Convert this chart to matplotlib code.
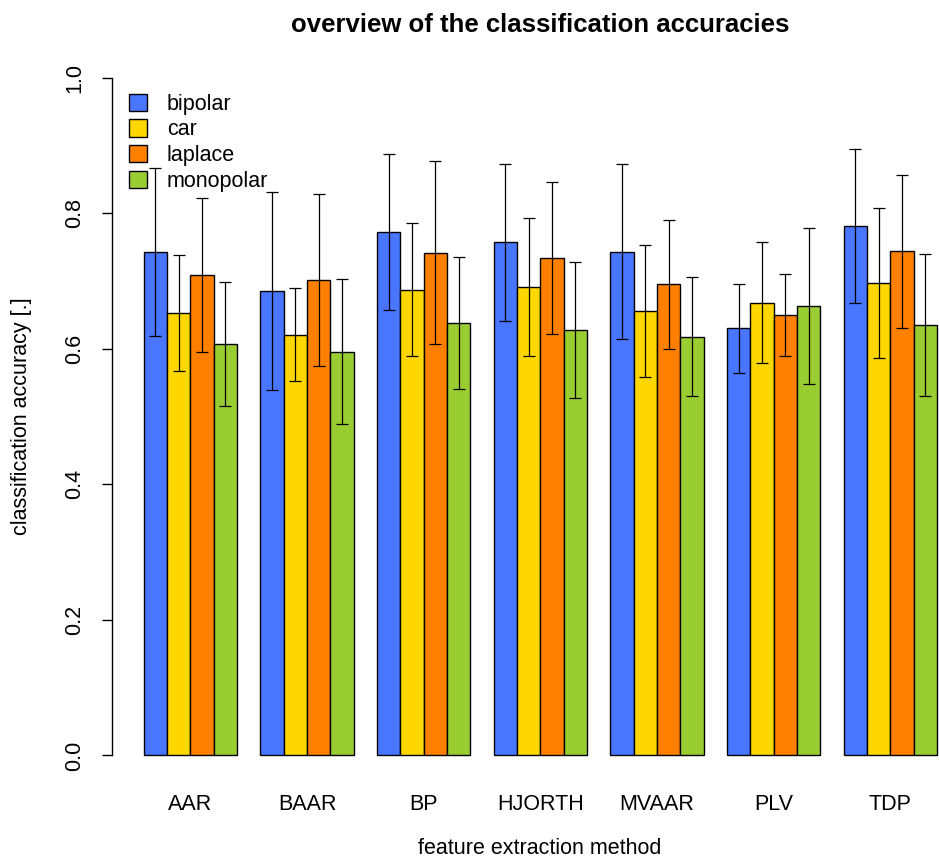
import matplotlib
matplotlib.use('Agg')
from matplotlib import pyplot as plt
from matplotlib.patches import Patch
import numpy as np

plt.rcParams['font.family'] = ['Liberation Sans', 'DejaVu Sans']

methods = ['AAR', 'BAAR', 'BP', 'HJORTH', 'MVAAR', 'PLV', 'TDP']
references = ['bipolar', 'car', 'laplace', 'monopolar']
colors = ['#4876FF', '#FFD700', '#FF7F00', '#9ACD32']

# mean accuracy per method, one list per reference
acc_bipolar = [0.743, 0.685, 0.773, 0.757, 0.743, 0.630, 0.781]
acc_car = [0.653, 0.621, 0.687, 0.691, 0.656, 0.668, 0.697]
acc_laplace = [0.709, 0.701, 0.742, 0.734, 0.695, 0.650, 0.744]
acc_monopolar = [0.607, 0.596, 0.638, 0.628, 0.618, 0.663, 0.635]

# standard deviations
sd_bipolar = [0.124, 0.146, 0.115, 0.116, 0.129, 0.065, 0.114]
sd_car = [0.086, 0.069, 0.098, 0.102, 0.097, 0.089, 0.111]
sd_laplace = [0.114, 0.127, 0.135, 0.112, 0.095, 0.060, 0.113]
sd_monopolar = [0.092, 0.107, 0.097, 0.100, 0.088, 0.115, 0.105]

means = [acc_bipolar, acc_car, acc_laplace, acc_monopolar]
sds = [sd_bipolar, sd_car, sd_laplace, sd_monopolar]

W, H = 939, 861
fig = plt.figure(figsize=(W / 100, H / 100), dpi=100)
# plot region like R's barplot (may run past right edge)
ax = fig.add_axes([112 / W, (H - 782.6) / H, 856.7 / W, 732 / H])

group_start = 1 + 5 * np.arange(len(methods))  # one bar width of space between groups

for i, (ref, col) in enumerate(zip(references, colors)):
    x = group_start + i + 0.5
    ax.bar(x, means[i], width=1.0, color=col, edgecolor='black', linewidth=1.0,
           label=ref, zorder=2)
    ax.errorbar(x, means[i], yerr=sds[i], fmt='none', ecolor='black',
                elinewidth=0.9, capsize=4.5, capthick=0.9, zorder=3)

ax.set_xlim(1 - 0.04 * 34, 35 + 0.04 * 34)
ax.set_ylim(-0.04, 1.04)

for s in ['top', 'right', 'bottom']:
    ax.spines[s].set_visible(False)
ax.spines['left'].set_bounds(0, 1)
ax.spines['left'].set_linewidth(1.0)

ax.set_yticks(np.arange(0, 1.01, 0.2))
ax.set_yticklabels(['%.1f' % v for v in np.arange(0, 1.01, 0.2)],
                   rotation=90, va='center', fontsize=15.5)
ax.tick_params(axis='y', length=7, width=1.0, pad=12)

ax.set_xticks(group_start + 2)
ax.set_xticklabels(methods, fontsize=15.5)
ax.tick_params(axis='x', length=0, pad=8)

# axis titles and main title
fig.text(540 / W, 1 - 849 / H, 'feature extraction method',
         ha='center', va='center', fontsize=15.5)
fig.text(22 / W, 1 - 416 / H, 'classification accuracy [.]',
         ha='center', va='center', rotation=90, fontsize=15.5)
fig.text(540 / W, 1 - 25 / H, 'overview of the classification accuracies',
         ha='center', va='center', fontsize=18.5, fontweight='bold')

handles = [Patch(facecolor=c, edgecolor='black', linewidth=1.0) for c in colors]
ax.legend(handles, references, loc='upper left', bbox_to_anchor=(0.01, 0.953),
          frameon=False, fontsize=15.5, handlelength=0.85, handleheight=0.85,
          handletextpad=0.9, labelspacing=0.22, borderaxespad=0)

plt.savefig('out.png', dpi=100)
plt.close()
